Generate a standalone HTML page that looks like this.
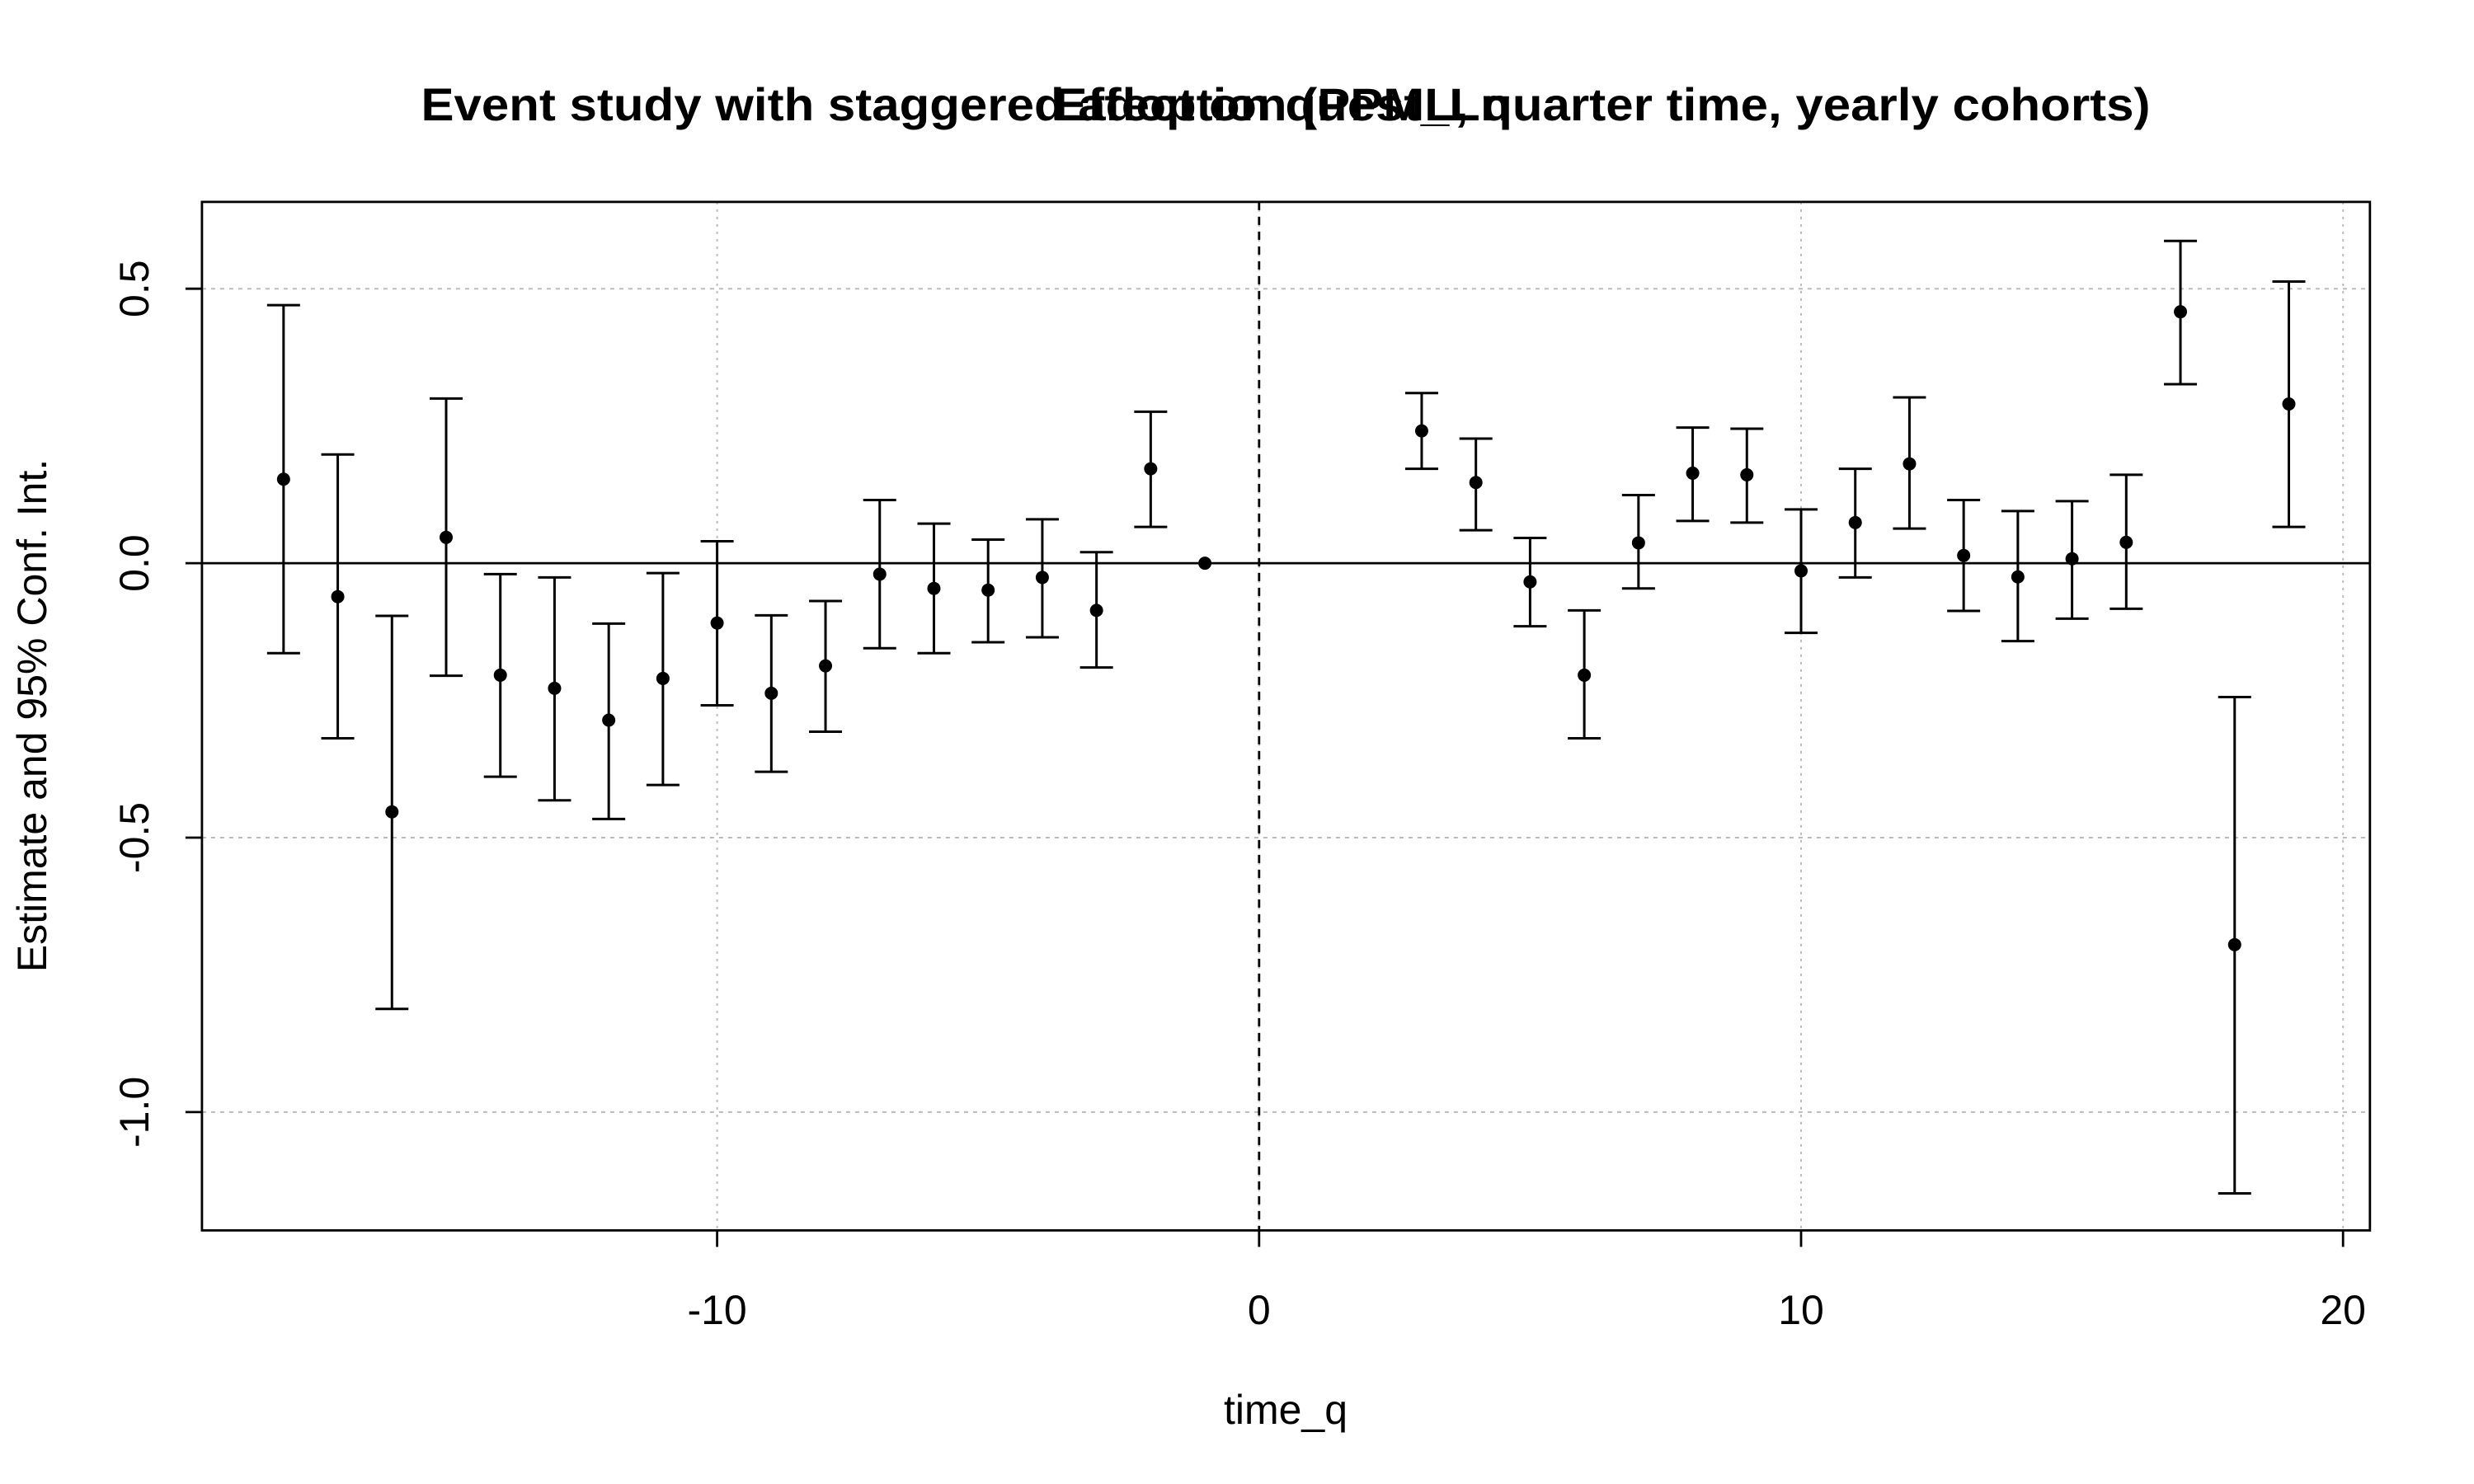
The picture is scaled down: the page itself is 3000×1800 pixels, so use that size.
<!DOCTYPE html>
<html><head><meta charset="utf-8"><style>html,body{margin:0;padding:0;background:#fff}svg{display:block}</style></head>
<body>
<svg id="chart" width="3000" height="1800" viewBox="0 0 3000 1800" xmlns="http://www.w3.org/2000/svg" font-family="Liberation Sans, Arial, sans-serif">
<rect width="3000" height="1800" fill="#fff"/>
<text x="1559" y="146" text-anchor="middle" font-size="56" font-weight="bold" textLength="2097" lengthAdjust="spacingAndGlyphs">Event study with staggered adoption (PPML, quarter time, yearly cohorts)</text>
<text x="1555" y="146" text-anchor="middle" font-size="56" font-weight="bold" textLength="555" lengthAdjust="spacingAndGlyphs">Effect on quest_Ln</text>
<g id="grid"></g>
<g id="marks"></g>
<g id="axes"></g>
<text x="1559" y="1727" text-anchor="middle" font-size="50">time_q</text>
<text transform="translate(56,868) rotate(-90)" text-anchor="middle" font-size="50">Estimate and 95% Conf. Int.</text>
</svg>
<script>
const periods = [-18,-17,-16,-15,-14,-13,-12,-11,-10,-9,-8,-7,-6,-5,-4,-3,-2,-1,3,4,5,6,7,8,9,10,11,12,13,14,15,16,17,18,19];
const estimates = [0.153,-0.061,-0.453,0.047,-0.204,-0.228,-0.286,-0.210,-0.109,-0.237,-0.187,-0.020,-0.046,-0.049,-0.026,-0.086,0.172,0,0.241,0.147,-0.034,-0.204,0.037,0.164,0.161,-0.014,0.074,0.181,0.014,-0.025,0.008,0.038,0.458,-0.695,0.290];
const ciLow = [-0.164,-0.319,-0.812,-0.205,-0.389,-0.432,-0.466,-0.404,-0.259,-0.380,-0.307,-0.155,-0.164,-0.144,-0.135,-0.190,0.066,0,0.172,0.060,-0.115,-0.319,-0.046,0.077,0.074,-0.127,-0.026,0.063,-0.087,-0.142,-0.101,-0.083,0.326,-1.148,0.066];
const ciHigh = [0.470,0.198,-0.096,0.300,-0.020,-0.026,-0.110,-0.018,0.040,-0.095,-0.069,0.115,0.072,0.043,0.080,0.020,0.276,0,0.310,0.227,0.046,-0.086,0.124,0.247,0.245,0.098,0.172,0.302,0.115,0.095,0.113,0.161,0.587,-0.244,0.513];
const xTicks = [-10,0,10,20];
const yTicks = [0.5,0,-0.5,-1.0];
const yTickLabels = ["0.5","0.0","-0.5","-1.0"];

const NS = "http://www.w3.org/2000/svg";
const L = 244.9, R = 2873.8, T = 244.9, B = 1492.4;
function xs(v){ return 1526.8 + v*65.72; }
function ys(v){ return 683.1 - v*665.8; }
function mk(tag, attrs, parent){ const e=document.createElementNS(NS,tag); for(const k in attrs) e.setAttribute(k,attrs[k]); parent.appendChild(e); return e; }
const grid=document.getElementById('grid'), marks=document.getElementById('marks'), axes=document.getElementById('axes');

xTicks.forEach(t=>{
  const g=mk('line',{x1:xs(t),x2:xs(t),y1:T,y2:B,stroke:'#bbb','stroke-width':2,'stroke-dasharray':'3,6'},grid);
  
  
  const tk=mk('line',{x1:xs(t),x2:xs(t),y1:B,y2:B+20,stroke:'#000','stroke-width':2.8},axes);
  
  
  const lb=mk('text',{x:xs(t),y:1606,'text-anchor':'middle','font-size':50},axes);
  lb.textContent=String(t);
  
  
});
yTicks.forEach((t,i)=>{
  const g=mk('line',{x1:L,x2:R,y1:ys(t),y2:ys(t),stroke:'#bbb','stroke-width':2,'stroke-dasharray':'5,6'},grid);
  
  
  const tk=mk('line',{x1:L-20,x2:L,y1:ys(t),y2:ys(t),stroke:'#000','stroke-width':2.8},axes);
  
  
  const lb=mk('text',{transform:`translate(180,${ys(t)}) rotate(-90)`,'text-anchor':'middle','font-size':50},axes);
  lb.textContent=yTickLabels[i];
  
  
});
const zl=mk('line',{x1:L,x2:R,y1:ys(0),y2:ys(0),stroke:'#000','stroke-width':2.8},grid);


const vl=mk('line',{x1:xs(0),x2:xs(0),y1:T,y2:B,stroke:'#000','stroke-width':2.8,'stroke-dasharray':'10,8'},grid);



periods.forEach((p,i)=>{
  const x=xs(p);
  if(ciHigh[i]!==ciLow[i]){
    const bar=mk('path',{d:`M${x},${ys(ciLow[i])}V${ys(ciHigh[i])}M${x-20},${ys(ciLow[i])}H${x+20}M${x-20},${ys(ciHigh[i])}H${x+20}`,stroke:'#000','stroke-width':3,fill:'none'},marks);
    
    
  }
  const pt=mk('circle',{cx:x,cy:ys(estimates[i]),r:8,fill:'#000'},marks);
  
  
});
const box=mk('rect',{x:L,y:T,width:R-L,height:B-T,fill:'none',stroke:'#000','stroke-width':2.8},axes);


</script>
</body></html>
